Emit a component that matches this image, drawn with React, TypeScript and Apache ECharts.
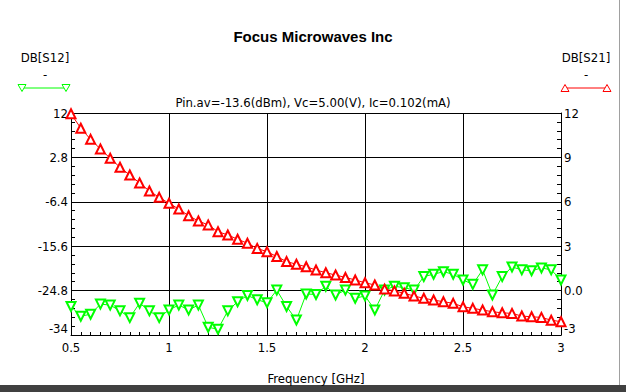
import React, { useEffect, useRef } from 'react';
import * as echarts from 'echarts';

const frequencyGHz = [0.5, 0.55, 0.6, 0.65, 0.7, 0.75, 0.8, 0.85, 0.9, 0.95, 1, 1.05, 1.1, 1.15, 1.2, 1.25, 1.3, 1.35, 1.4, 1.45, 1.5, 1.55, 1.6, 1.65, 1.7, 1.75, 1.8, 1.85, 1.9, 1.95, 2, 2.05, 2.1, 2.15, 2.2, 2.25, 2.3, 2.35, 2.4, 2.45, 2.5, 2.55, 2.6, 2.65, 2.7, 2.75, 2.8, 2.85, 2.9, 2.95, 3];

const dbS21 = [11.95, 10.97, 10.22, 9.57, 8.94, 8.33, 7.81, 7.27, 6.73, 6.3, 5.9, 5.51, 5.06, 4.7, 4.44, 3.98, 3.76, 3.47, 3.2, 2.85, 2.63, 2.3, 1.96, 1.78, 1.61, 1.39, 1.21, 1.05, 0.89, 0.72, 0.53, 0.38, 0.1, -0.02, -0.18, -0.37, -0.52, -0.64, -0.75, -0.86, -1.09, -1.2, -1.31, -1.43, -1.5, -1.54, -1.72, -1.77, -1.81, -2.0, -2.1];

const dbS12 = [-28.1, -30.1, -29.7, -27.6, -27.8, -29.0, -30.4, -27.4, -29.0, -30.4, -28.8, -27.8, -28.8, -27.8, -32.4, -32.8, -29.0, -27.1, -25.8, -26.7, -27.3, -24.7, -28.1, -30.9, -25.5, -25.6, -23.9, -25.7, -24.7, -26.4, -25.9, -28.8, -24.7, -23.9, -24.2, -24.7, -21.9, -21.4, -20.9, -21.4, -22.6, -23.5, -20.5, -25.7, -21.9, -19.9, -20.5, -20.7, -20.1, -20.5, -22.6];

const titleText = 'Focus Microwaves Inc';
const subtitleText = 'Pin.av=-13.6(dBm), Vc=5.00(V), Ic=0.102(mA)';
const xName = 'Frequency [GHz]';
const leftName = 'DB[S12]';
const rightName = 'DB[S21]';

const FONT = '"Liberation Sans Narrow", "DejaVu Sans Condensed", "Liberation Sans", Arial, sans-serif';
const GREEN = '#00ff00';
const RED = '#ff0000';

function tri(cx: number, cy: number, down: boolean) {
  const h = 3.5;
  return down
    ? [[cx - 4, cy - h], [cx + 4, cy - h], [cx, cy + h]]
    : [[cx - 4, cy + h], [cx + 4, cy + h], [cx, cy - h]];
}

export default function App() {
  const ref = useRef<HTMLDivElement>(null);
  useEffect(() => {
    const chart = echarts.init(ref.current!, null, { renderer: 'svg' });
    const axisText = { color: '#000', fontSize: 13, fontFamily: FONT };
    const fmt = (v: number) => String(Number(v.toFixed(1)));
    chart.setOption({
      animation: false,
      backgroundColor: '#fff',
      title: [
        {
          text: titleText,
          left: 'center',
          top: 29,
          padding: 0,
          textStyle: { color: '#000', fontSize: 15, fontWeight: 'bold', fontFamily: '"Liberation Sans", Arial, sans-serif' },
        },
        {
          text: subtitleText,
          left: 'center',
          top: 96,
          padding: 0,
          textStyle: { color: '#000', fontSize: 13, fontWeight: 'normal', fontFamily: FONT },
        },
      ],
      grid: { left: 71, right: 65, top: 113, bottom: 57, containLabel: false },
      xAxis: {
        type: 'value',
        min: 0.5,
        max: 3,
        interval: 0.5,
        name: xName,
        nameLocation: 'middle',
        nameGap: 37,
        nameTextStyle: axisText,
        axisLine: { show: true, onZero: false, lineStyle: { color: '#000', width: 1 } },
        axisTick: { show: true, inside: true, length: 3, lineStyle: { color: '#000' } },
        minorTick: { show: true, splitNumber: 10, length: 3, lineStyle: { color: '#000' } },
        axisLabel: { ...axisText, margin: 6, formatter: (v: number) => fmt(v) },
        splitLine: { show: true, lineStyle: { color: '#000', width: 1 } },
      },
      yAxis: [
        {
          type: 'value',
          position: 'left',
          min: -34,
          max: 12,
          interval: 9.2,
          axisLine: { show: true, onZero: false, lineStyle: { color: '#000', width: 1 } },
          axisTick: { show: true, inside: true, length: 4, lineStyle: { color: '#000' } },
          minorTick: { show: true, splitNumber: 5, length: 4, lineStyle: { color: '#000' } },
          splitLine: { show: true, lineStyle: { color: '#000', width: 1 } },
          axisLabel: {
            ...axisText,
            margin: 3,
            formatter: (v: number) => (Math.abs(v + 34) < 0.01 ? '{low|' + fmt(v) + '}' : fmt(v)),
            rich: { low: { ...axisText, padding: [0, 0, 14, 0] } },
          },
        },
        {
          type: 'value',
          position: 'right',
          min: -3,
          max: 12,
          interval: 3,
          axisLine: { show: true, onZero: false, lineStyle: { color: '#000', width: 1 } },
          axisTick: { show: true, inside: true, length: 4, lineStyle: { color: '#000' } },
          minorTick: { show: true, splitNumber: 5, length: 4, lineStyle: { color: '#000' } },
          splitLine: { show: false },
          axisLabel: {
            ...axisText,
            margin: 3,
            formatter: (v: number) => (v === 0 ? '0.0' : v === -3 ? '{low|-3}' : String(v)),
            rich: { low: { ...axisText, padding: [0, 0, 14, 0] } },
          },
        },
      ],
      series: [
        {
          name: leftName,
          type: 'line',
          yAxisIndex: 0,
          data: frequencyGHz.map((f, i) => [f, dbS12[i]]),
          symbol: 'emptyTriangle',
          symbolRotate: 180,
          symbolSize: 9,
          lineStyle: { color: GREEN, width: 1 },
          itemStyle: { color: GREEN, borderWidth: 1 },
        },
        {
          name: rightName,
          type: 'line',
          yAxisIndex: 1,
          data: frequencyGHz.map((f, i) => [f, dbS21[i]]),
          symbol: 'emptyTriangle',
          symbolSize: 9,
          lineStyle: { color: RED, width: 1 },
          itemStyle: { color: RED, borderWidth: 1 },
        },
      ],
      graphic: [
        { type: 'text', x: 45, y: 57, style: { text: leftName, align: 'center', verticalAlign: 'middle', textAlign: 'center', textVerticalAlign: 'middle', fontSize: 13, fontFamily: FONT, fill: '#000' } },
        { type: 'text', x: 45, y: 74, style: { text: '-', align: 'center', verticalAlign: 'middle', textAlign: 'center', textVerticalAlign: 'middle', fontSize: 13, fontFamily: FONT, fill: '#000' } },
        { type: 'line', shape: { x1: 22, y1: 88, x2: 66, y2: 88 }, style: { stroke: GREEN, lineWidth: 1 } },
        { type: 'polygon', shape: { points: tri(22, 88, true) }, style: { fill: '#fff', stroke: GREEN, lineWidth: 1 } },
        { type: 'polygon', shape: { points: tri(66, 88, true) }, style: { fill: '#fff', stroke: GREEN, lineWidth: 1 } },
        { type: 'text', x: 586, y: 57, style: { text: rightName, align: 'center', verticalAlign: 'middle', textAlign: 'center', textVerticalAlign: 'middle', fontSize: 13, fontFamily: FONT, fill: '#000' } },
        { type: 'text', x: 586, y: 74, style: { text: '-', align: 'center', verticalAlign: 'middle', textAlign: 'center', textVerticalAlign: 'middle', fontSize: 13, fontFamily: FONT, fill: '#000' } },
        { type: 'line', shape: { x1: 565, y1: 88, x2: 607, y2: 88 }, style: { stroke: RED, lineWidth: 1 } },
        { type: 'polygon', shape: { points: tri(565, 88, false) }, style: { fill: '#fff', stroke: RED, lineWidth: 1 } },
        { type: 'polygon', shape: { points: tri(607, 88, false) }, style: { fill: '#fff', stroke: RED, lineWidth: 1 } },
        { type: 'line', shape: { x1: 619.5, y1: 0, x2: 619.5, y2: 385 }, style: { stroke: '#a0a0a0', lineWidth: 1 } },
        { type: 'rect', shape: { x: 0, y: 385, width: 626, height: 7 }, style: { fill: '#404040' } },
      ],
    });
    return () => chart.dispose();
  }, []);
  return <div ref={ref} style={{ position: 'fixed', left: 0, top: 0, width: 626, height: 392, background: '#fff' }} />;
}
